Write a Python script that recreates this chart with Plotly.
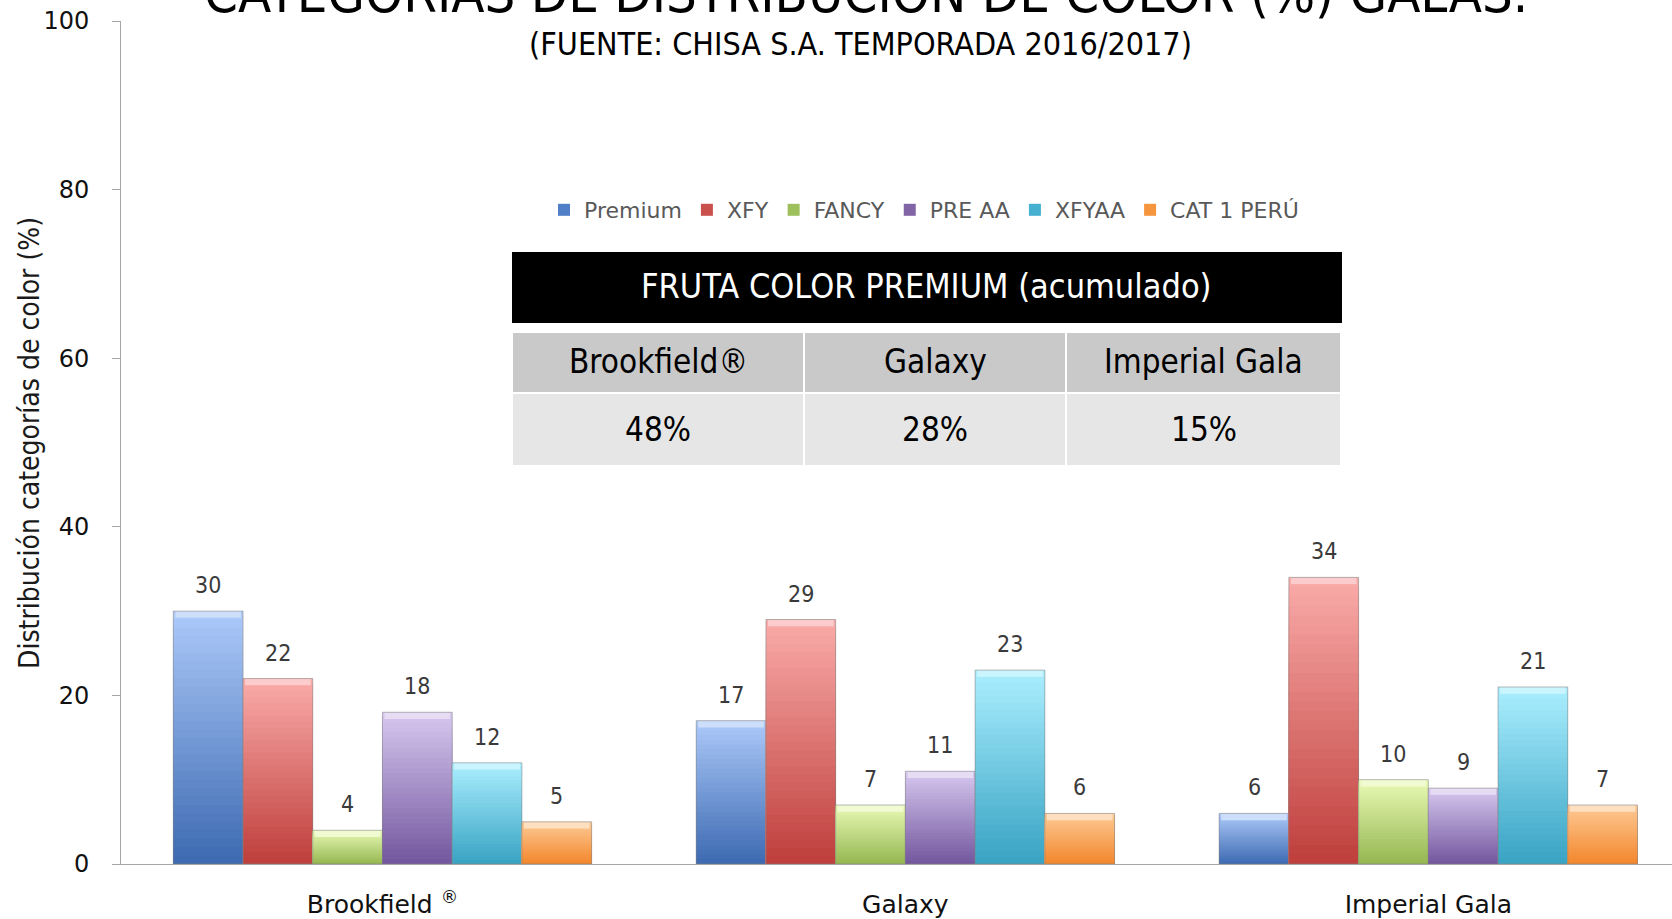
import plotly.graph_objects as go

# ---------------- data ----------------
categories = ["Brookfield ®", "Galaxy", "Imperial Gala"]
category_ticktext = ["Brookfield <sup>®</sup>", "Galaxy", "Imperial Gala"]
series_names = ["Premium", "XFY", "FANCY", "PRE AA", "XFYAA", "CAT 1 PERÚ"]
premium = [30, 17, 6]
xfy = [22, 29, 34]
fancy = [4, 7, 10]
pre_aa = [18, 11, 9]
xfyaa = [12, 23, 21]
cat1_peru = [5, 6, 7]
series_values = [premium, xfy, fancy, pre_aa, xfyaa, cat1_peru]

y_ticks = [0, 20, 40, 60, 80, 100]

title_text = "CATEGORÍAS DE DISTRIBUCIÓN DE COLOR (%) GALAS."
subtitle_text = "(FUENTE: CHISA S.A. TEMPORADA 2016/2017)"
y_title = "Distribución categorías de color (%)"

table_title = "FRUTA COLOR PREMIUM (acumulado)"
table_varieties = ["Brookfield®", "Galaxy", "Imperial Gala"]
table_values = ["48%", "28%", "15%"]

# ---------------- styles ----------------
top_colors = ["#abc8f8", "#f9aaa8", "#e8f9b4", "#d5c6ee", "#a9eefe", "#fdc994"]
bottom_colors = ["#3a68b0", "#bd3c39", "#93b54f", "#71549c", "#36a1c2", "#f3852a"]
legend_colors = ["#4f7fc6", "#c9504d", "#9dc05c", "#8064a6", "#45b0cf", "#f5963f"]

COND = "Liberation Sans Narrow, DejaVu Sans Condensed, Arial Narrow, sans-serif"
WIDE = "DejaVu Sans, Verdana, sans-serif"

N_LAYERS = 30
group_width = 0.8
bar_w = group_width / len(series_names)
bevel = 0.8  # thickness of the light top band, in axis units

# figure geometry (px)
W, H = 1672, 919
M_L, M_R, M_T, M_B = 121, 0, 21, 55
PLOT_H = H - M_T - M_B
PLOT_W = W - M_L - M_R

# table geometry (px in page)
tbl_x0, tbl_x1 = 512, 1341
tbl_title_top, tbl_title_h = 252, 72
tbl_top, tbl_head_h, tbl_cell_h = 332, 61, 73
tbl_colw = [292, 262, 275]


def px_x(p):
    return (p - M_L) / PLOT_W


def px_y(p):
    return (H - M_B - p) / PLOT_H


def hex2rgb(h):
    h = h.lstrip("#")
    return [int(h[i:i + 2], 16) for i in (0, 2, 4)]


def mix(c1, c2, t):
    a, b = hex2rgb(c1), hex2rgb(c2)
    return "rgb(%d,%d,%d)" % tuple(round(a[i] * t + b[i] * (1 - t)) for i in range(3))


fig = go.Figure()

for i, (name, vals) in enumerate(zip(series_names, series_values)):
    off = -group_width / 2 + i * bar_w
    for k in range(N_LAYERS):
        h = 1 - k / N_LAYERS
        fig.add_trace(go.Bar(
            x=categories, y=[v * h for v in vals], name=name, legendgroup=name,
            showlegend=False, offset=off, width=bar_w,
            marker=dict(color=mix(top_colors[i], bottom_colors[i], h), line=dict(width=0)),
            hoverinfo="skip",
        ))
    # light bevel band on top of each bar
    fig.add_trace(go.Bar(
        x=categories, y=[-bevel] * len(vals), base=vals, name=name, legendgroup=name,
        showlegend=False, offset=off + 0.004, width=bar_w - 0.008,
        marker=dict(color=mix("#ffffff", top_colors[i], 0.4), line=dict(width=0)),
        hoverinfo="skip",
    ))
    # thin outline
    fig.add_trace(go.Bar(
        x=categories, y=vals, name=name, legendgroup=name, showlegend=False,
        offset=off, width=bar_w,
        marker=dict(color="rgba(0,0,0,0)", line=dict(width=1, color="rgba(130,130,130,0.55)")),
        hoverinfo="skip",
    ))
    # legend entry
    fig.add_trace(go.Bar(
        x=[categories[0]], y=[None], name=name, legendgroup=name, showlegend=True,
        marker=dict(color=legend_colors[i], line=dict(width=0)),
        offset=off, width=bar_w,
    ))

annotations = []
for i, vals in enumerate(series_values):
    off = -group_width / 2 + i * bar_w
    for j, v in enumerate(vals):
        annotations.append(dict(
            x=j + off + bar_w / 2, y=v, xref="x", yref="y",
            text=str(v), showarrow=False, yanchor="bottom", yshift=11,
            font=dict(family=COND, size=23, color="#3a3a3a"),
        ))

# titles
annotations.append(dict(
    x=px_x(866), y=1, xref="paper", yref="paper", xanchor="center", yanchor="bottom",
    yshift=-6, text=title_text, showarrow=False,
    font=dict(family=COND, size=54, color="#000000"),
))
annotations.append(dict(
    x=px_x(860), y=px_y(44), xref="paper", yref="paper", xanchor="center", yanchor="middle",
    text=subtitle_text, showarrow=False,
    font=dict(family=COND, size=32, color="#000000"),
))
annotations.append(dict(
    x=px_x(30), y=px_y(443), xref="paper", yref="paper", xanchor="center", yanchor="middle",
    text=y_title, textangle=-90, showarrow=False,
    font=dict(family=COND, size=28, color="#1a1a1a"),
))

# table: black title bar
fig.add_trace(go.Table(
    domain=dict(x=[px_x(tbl_x0), px_x(tbl_x1)],
                y=[px_y(tbl_title_top + tbl_title_h), px_y(tbl_title_top)]),
    columnwidth=[1],
    header=dict(values=[""], fill_color="#000000", height=tbl_title_h,
                line=dict(color="#000000", width=1)),
    cells=dict(values=[[]]),
))
# table: varieties and values
fig.add_trace(go.Table(
    domain=dict(x=[px_x(tbl_x0), px_x(tbl_x1)],
                y=[px_y(tbl_top + tbl_head_h + tbl_cell_h + 4), px_y(tbl_top)]),
    columnwidth=tbl_colw,
    header=dict(values=[""] * len(table_varieties), fill_color="#c9c9c9", height=tbl_head_h,
                line=dict(color="#ffffff", width=2)),
    cells=dict(values=[[""] for _ in table_values], fill_color="#e6e6e6", height=tbl_cell_h,
               line=dict(color="#ffffff", width=2)),
))

# table texts, centred in their cells
tbl_font = dict(family=COND, size=33, color="#000000")
annotations.append(dict(
    x=px_x((tbl_x0 + tbl_x1) / 2), y=px_y(tbl_title_top + tbl_title_h / 2 - 2),
    xref="paper", yref="paper", xanchor="center", yanchor="middle", showarrow=False,
    text=table_title, font=dict(family=COND, size=34, color="#ffffff"),
))
scale = (tbl_x1 - tbl_x0) / sum(tbl_colw)
cx = tbl_x0
for name, val, w in zip(table_varieties, table_values, tbl_colw):
    c = cx + w * scale / 2
    annotations.append(dict(
        x=px_x(c), y=px_y(tbl_top + tbl_head_h / 2 - 1), xref="paper", yref="paper",
        xanchor="center", yanchor="middle", showarrow=False, text=name, font=tbl_font,
    ))
    annotations.append(dict(
        x=px_x(c), y=px_y(tbl_top + tbl_head_h + tbl_cell_h / 2), xref="paper", yref="paper",
        xanchor="center", yanchor="middle", showarrow=False, text=val, font=tbl_font,
    ))
    cx += w * scale

fig.update_layout(
    width=W, height=H,
    margin=dict(l=M_L, r=M_R, t=M_T, b=M_B),
    paper_bgcolor="white", plot_bgcolor="white",
    barmode="overlay",
    showlegend=True,
    legend=dict(orientation="h", x=px_x(544), y=px_y(210), xanchor="left", yanchor="middle",
                font=dict(family=WIDE, size=22, color="#595959"),
                bgcolor="rgba(0,0,0,0)", itemclick=False, traceorder="normal"),
    annotations=annotations,
    xaxis=dict(type="category", range=[-0.5, 2.466], showline=True, linecolor="#a6a6a6",
               linewidth=1, ticks="", showgrid=False, zeroline=False,
               tickvals=categories, ticktext=category_ticktext,
               tickfont=dict(family=WIDE, size=25, color="#111111"),
               ticklabelstandoff=18),
    yaxis=dict(range=[0, 100], tickvals=y_ticks, showline=True, linecolor="#a6a6a6",
               linewidth=1, ticks="outside", ticklen=8, tickcolor="#a6a6a6",
               showgrid=False, zeroline=False,
               tickfont=dict(family=WIDE, size=24, color="#111111"),
               ticklabelstandoff=18),
)

fig.write_html("out.html", config={"displayModeBar": False},
               post_script="document.body.style.margin='0';document.body.style.overflow='hidden';")
